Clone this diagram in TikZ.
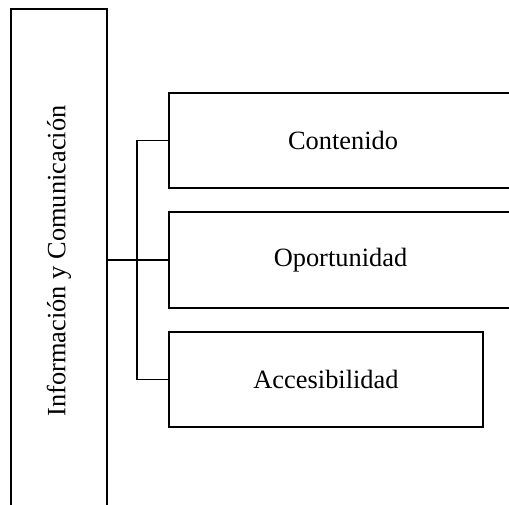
\documentclass[tikz,border=0pt]{standalone}
\usepackage{fontspec}
\setmainfont{Liberation Serif}
\begin{document}
\begin{tikzpicture}[x=1pt,y=-1pt,
  boxnode/.style={draw=black, line width=1.8pt, rectangle, inner sep=0pt},
  lbl/.style={font=\fontsize{26.4}{30}\selectfont, inner sep=0pt},
  conn/.style={draw=black, line width=1.8pt}]
\useasboundingbox (0,0) rectangle (509,505);
\clip (0,0) rectangle (509,505);
\fill[white] (0,0) rectangle (509,505);
% left tall box
\node[boxnode, minimum width=96pt, minimum height=504pt] (info) at (59,261) {};
\node[lbl, rotate=90] (infotext) at (info.center) {Información y Comunicación};
% right boxes
\node[boxnode, minimum width=348pt, minimum height=95pt, lbl] (cont) at (343,140.5) {Contenido};
\node[boxnode, minimum width=343pt, minimum height=96pt, lbl] (opo) at (340.5,260) {Oportunidad};
\node[boxnode, minimum width=314pt, minimum height=95pt, lbl] (acc) at (326,379.5) {Accesibilidad};
% connectors
\draw[conn] (info.east |- opo.west) -- (opo.west);
\draw[conn] (cont.west) -- ++(-31,0) |- (acc.west);
\end{tikzpicture}
\end{document}
